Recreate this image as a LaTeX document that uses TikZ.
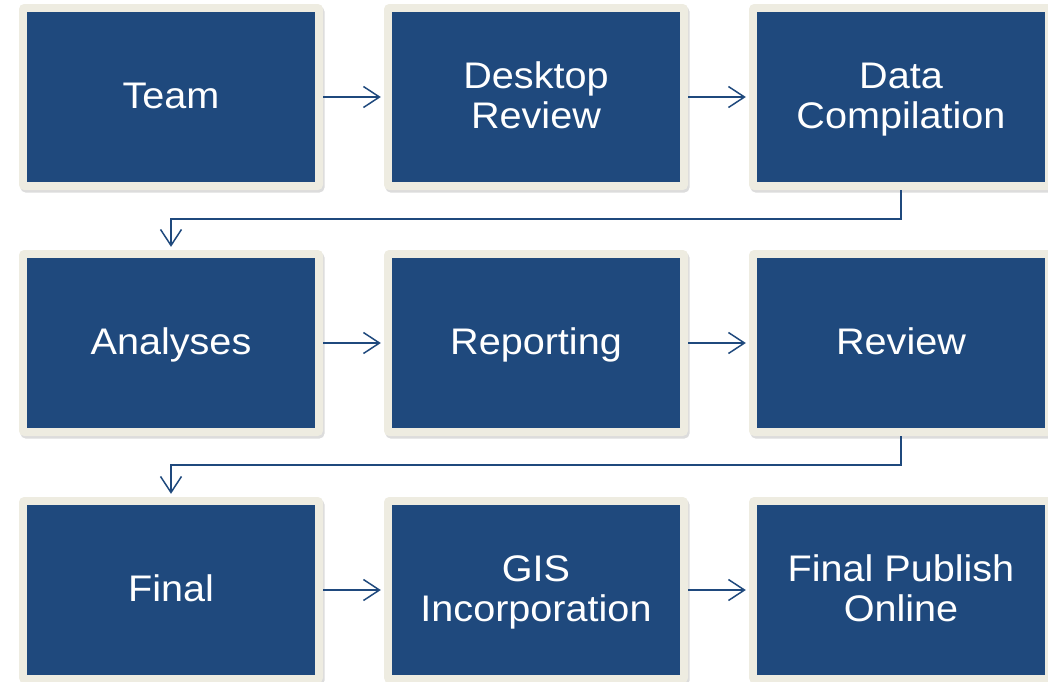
\documentclass[tikz,border=0pt]{standalone}
\usepackage{fontspec}
\setmainfont{Liberation Sans}[FakeStretch=1.07]
\usetikzlibrary{arrows.meta,shadows}
\definecolor{boxblue}{RGB}{31,73,125}
\definecolor{framec}{RGB}{238,236,225}
\newcommand\lnstrut{\rule[-9pt]{0pt}{40pt}}
\tikzset{
  stagebox/.style={
    fill=framec, rounded corners=5pt,
    minimum width=304pt, minimum height=186pt, inner sep=0pt,
    drop shadow={opacity=0.28, shadow xshift=1.5pt, shadow yshift=-2.5pt, fill=gray},
    path picture={\fill[boxblue,sharp corners]
      ([shift={(8pt,8pt)}]path picture bounding box.south west) rectangle
      ([shift={(-8pt,-8pt)}]path picture bounding box.north east);},
    text=white, align=center,
    font=\fontsize{37}{40}\selectfont},
  flow/.style={draw=boxblue, line width=1.5pt,
    -{Straight Barb[length=16pt,width=21pt,line width=1.5pt]}, shorten >=3pt}
}
\begin{document}
\begin{tikzpicture}[x=1pt,y=-1pt]
\useasboundingbox (0,0) rectangle (1048,681);
\clip (0,0) rectangle (1048,681);
\node[stagebox] (team) at (171,97) {\lnstrut Team};
\node[stagebox] (desk) at (536,97) {\lnstrut Desktop\\\lnstrut Review};
\node[stagebox] (data) at (901,97) {\lnstrut Data\\\lnstrut Compilation};
\node[stagebox] (anal) at (171,343) {\lnstrut Analyses};
\node[stagebox] (repo) at (536,343) {\lnstrut Reporting};
\node[stagebox] (revi) at (901,343) {\lnstrut Review};
\node[stagebox] (fina) at (171,590) {\lnstrut Final};
\node[stagebox] (gisi) at (536,590) {\lnstrut GIS\\\lnstrut Incorporation};
\node[stagebox] (publ) at (901,590) {\lnstrut Final Publish\\\lnstrut Online};
\draw[flow] (team) -- (desk);
\draw[flow] (desk) -- (data);
\draw[flow] (anal) -- (repo);
\draw[flow] (repo) -- (revi);
\draw[flow] (fina) -- (gisi);
\draw[flow] (gisi) -- (publ);
\coordinate (bend1) at ([yshift=-29pt]data.south);
\coordinate (bend2) at ([yshift=-29pt]revi.south);
\draw[flow] (data.south) -- (bend1) -| (anal.north);
\draw[flow] (revi.south) -- (bend2) -| (fina.north);
\end{tikzpicture}
\end{document}
